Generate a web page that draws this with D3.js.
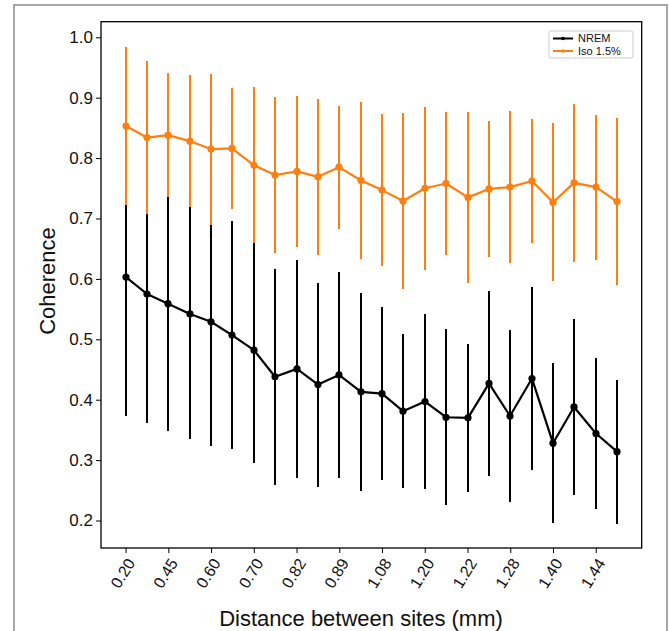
<!DOCTYPE html>
<html>
<head>
<meta charset="utf-8">
<script src="https://cdn.jsdelivr.net/npm/d3@7"></script>
<style>
  html, body { margin: 0; padding: 0; background: #fff; }
  svg { display: block; font-family: "Liberation Sans", Arial, sans-serif; }
</style>
</head>
<body>
<svg id="chart" width="669" height="631"></svg>
<script>
// ---- data ----
const tickLabels = ["0.20","0.45","0.60","0.70","0.82","0.89","1.08","1.20","1.22","1.28","1.40","1.44"];
const tickIndex = [0,2,4,6,8,10,12,14,16,18,20,22];
const pointIndex = [0,1,2,3,4,5,6,7,8,9,10,11,12,13,14,15,16,17,18,19,20,21,22,23];

const nremMean = [0.603,0.575,0.559,0.542,0.529,0.507,0.482,0.438,0.451,0.425,0.441,0.413,
                  0.410,0.381,0.397,0.371,0.370,0.427,0.373,0.435,0.328,0.388,0.344,0.314];
const nremErr  = [0.230,0.214,0.210,0.207,0.205,0.189,0.186,0.179,0.181,0.169,0.171,0.164,
                  0.143,0.127,0.145,0.146,0.123,0.153,0.142,0.151,0.132,0.146,0.125,0.119];
const isoMean  = [0.853,0.834,0.838,0.828,0.815,0.816,0.788,0.772,0.778,0.769,0.785,0.763,
                  0.747,0.729,0.750,0.758,0.735,0.749,0.752,0.762,0.727,0.759,0.752,0.728];
const isoErr   = [0.131,0.126,0.103,0.109,0.125,0.100,0.129,0.129,0.125,0.129,0.102,0.130,
                  0.126,0.145,0.135,0.119,0.141,0.112,0.126,0.103,0.131,0.131,0.120,0.138];
const yTicks = [0.2,0.3,0.4,0.5,0.6,0.7,0.8,0.9,1.0];
const seriesNames = ["NREM","Iso 1.5%"];
const seriesColors = ["#000000","#ff7f0e"];

// ---- layout ----
const svg = d3.select("#chart");
const L = 101, R = 641.7, T = 21.7, B = 548;

// outer frame
svg.append("rect").attr("x",14).attr("y",5).attr("width",653).attr("height",640)
  .attr("fill","none").attr("stroke","#8a8a8a").attr("stroke-width",1.5);

const x = d3.scaleLinear().domain([-1.15, 24.15]).range([L, R]);
const y = d3.scaleLinear().domain([0.1545, 1.0258]).range([B, T]);
const xr = i => Math.round(x(i));

// axes
const yAxis = d3.axisLeft(y).tickValues(yTicks).tickFormat(d3.format(".1f")).tickSize(5).tickPadding(3);
const gy = svg.append("g").attr("transform",`translate(${L},0)`).call(yAxis);
gy.select(".domain").remove();
gy.selectAll(".tick line").attr("stroke","#000").attr("stroke-width",1);
gy.selectAll(".tick text").attr("font-size",17).attr("fill","#111")
  .attr("font-family","'Liberation Sans', Arial, sans-serif");

const xAxis = d3.axisBottom(x).tickValues(tickIndex).tickFormat((d,i)=>tickLabels[i]).tickSize(5);
const gx = svg.append("g").attr("transform",`translate(0,${B})`).call(xAxis);
gx.select(".domain").remove();
gx.selectAll(".tick line").attr("stroke","#000").attr("stroke-width",1);
gx.selectAll(".tick text")
  .attr("font-size",16).attr("fill","#111")
  .attr("font-family","'Liberation Sans', Arial, sans-serif")
  .attr("text-anchor","end")
  .attr("y",0).attr("dy","0.35em")
  .attr("transform","translate(5,12) rotate(-58)");

// plot frame
svg.append("rect").attr("x",L).attr("y",T).attr("width",R-L).attr("height",B-T)
  .attr("fill","none").attr("stroke","#000").attr("stroke-width",1.3);

// series
function drawSeries(mean, err, color) {
  const g = svg.append("g");
  g.selectAll("line.err").data(pointIndex).enter().append("line")
    .attr("x1", xr).attr("x2", xr)
    .attr("y1", i=>y(mean[i]-err[i])).attr("y2", i=>y(mean[i]+err[i]))
    .attr("stroke", color).attr("stroke-width", 2)
    .attr("shape-rendering","crispEdges");
  const line = d3.line().x(xr).y(i=>y(mean[i]));
  g.append("path").datum(pointIndex).attr("d", line)
    .attr("fill","none").attr("stroke",color).attr("stroke-width",2.2).attr("stroke-linejoin","round");
  g.selectAll("circle").data(pointIndex).enter().append("circle")
    .attr("cx", xr).attr("cy", i=>y(mean[i])).attr("r", 3.6).attr("fill", color);
}
drawSeries(nremMean, nremErr, seriesColors[0]);
drawSeries(isoMean, isoErr, seriesColors[1]);

// axis labels
svg.append("text").attr("x",361).attr("y",626).attr("text-anchor","middle")
  .attr("font-size",22).attr("fill","#111").text("Distance between sites (mm)");
svg.append("text").attr("transform","translate(55,281) rotate(-90)").attr("text-anchor","middle")
  .attr("font-size",22).attr("fill","#111").text("Coherence");

// legend
const lg = svg.append("g");
lg.append("rect").attr("x",549).attr("y",31).attr("width",84).attr("height",27).attr("rx",2)
  .attr("fill","#fff").attr("stroke","#cccccc").attr("stroke-width",1);
seriesNames.forEach((name,k)=>{
  const yy = 38.5 + k*12.5;
  lg.append("line").attr("x1",553).attr("x2",573).attr("y1",yy).attr("y2",yy)
    .attr("stroke",seriesColors[k]).attr("stroke-width",2);
  lg.append("circle").attr("cx",563).attr("cy",yy).attr("r",1.8).attr("fill",seriesColors[k]);
  lg.append("text").attr("x",578).attr("y",yy).attr("dy","0.35em").attr("font-size",11)
    .attr("fill","#111").text(name);
});
</script>
</body>
</html>
